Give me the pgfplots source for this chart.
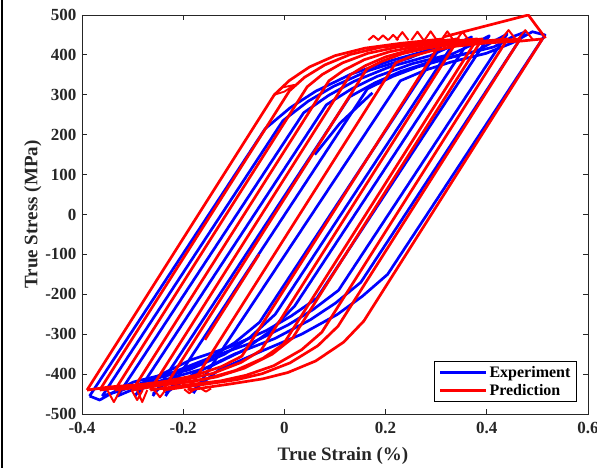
\documentclass[border=0pt]{standalone}
\usepackage{pgfplots}
\pgfplotsset{compat=1.18}
\usepackage{fontspec}
\setmainfont{Liberation Serif}
\definecolor{axgray}{RGB}{38,38,38}
\definecolor{pblue}{RGB}{0,0,255}
\definecolor{pred}{RGB}{255,0,0}
\begin{document}
\begin{tikzpicture}
\useasboundingbox (-82pt,-54pt) rectangle (515pt,414pt);
\draw[black, line width=2.5pt] (-80pt,-54pt) -- (-80pt,414pt);
\begin{axis}[
  scale only axis, width=506pt, height=399pt,
  xmin=-0.4, xmax=0.6, ymin=-500, ymax=500,
  xtick={-0.4,-0.2,0,0.2,0.4,0.6},
  ytick={-500,-400,-300,-200,-100,0,100,200,300,400,500},
  tick align=inside, major tick length=5pt,
  axis line style={axgray, line width=0.8pt},
  every tick/.style={axgray, line width=0.8pt},
  /pgf/number format/assume math mode=true,
  ticklabel style={font=\bfseries\fontsize{17}{17}\selectfont, text=axgray},
  xticklabel style={yshift=-5pt},
  yticklabel style={xshift=-2pt},
  xlabel={True Strain (\%)}, ylabel={True Stress (MPa)},
  label style={font=\bfseries\fontsize{19}{20}\selectfont, text=axgray},
  xlabel style={yshift=-6pt, xshift=8pt},
  ylabel style={yshift=-3pt},
  legend style={at={(rel axis cs:0.978,0.03)}, anchor=south east, draw=black, line width=0.9pt,
     font=\bfseries\fontsize{16}{17}\selectfont, inner xsep=4pt, inner ysep=3pt, row sep=1pt},
  legend cell align=left,
  legend image code/.code={\draw[#1, line width=3pt] (0pt,0pt) -- (46pt,0pt);},
  unbounded coords=jump,
  every axis plot/.append style={line width=2.7pt, line join=round},
]
% ---------------- Experiment (blue) ----------------
\addplot[pblue] coordinates {
(-0.385,-455) (-0.038,215) (0.012,268) (0.062,309) (0.132,352) (0.212,386) (0.280,410) (0.315,432)
(-0.049,-270) (-0.099,-322) (-0.149,-360) (-0.219,-395) (-0.299,-420) (-0.340,-447) (-0.365,-465) (-0.385,-455)};
\addplot[pblue, forget plot] coordinates {
(-0.36,-455) (-0.003,235) (0.047,284) (0.097,321) (0.167,361) (0.247,392) (0.300,420) (0.34,440)
(-0.018,-250) (-0.068,-308) (-0.118,-350) (-0.188,-389) (-0.268,-416) (-0.320,-440) (-0.36,-455)};
\addplot[pblue, forget plot] coordinates {
(-0.33,-455) (0.038,255) (0.088,299) (0.138,334) (0.208,370) (0.288,398) (0.335,425) (0.37,445)
(0.02,-230) (-0.03,-294) (-0.08,-340) (-0.15,-383) (-0.23,-412) (-0.28,-428) (-0.33,-455)};
\addplot[pblue, forget plot] coordinates {
(-0.295,-455) (0.083,275) (0.133,315) (0.183,346) (0.253,378) (0.333,403) (0.375,428) (0.405,448)
(0.064,-210) (0.014,-254) (-0.036,-291) (-0.106,-331) (-0.186,-365) (-0.250,-405) (-0.295,-452)};
\addplot[pblue, forget plot] coordinates {
(-0.26,-455) (0.129,295) (0.179,330) (0.229,358) (0.299,387) (0.379,409) (0.415,435) (0.44,452)
(0.107,-190) (0.057,-238) (0.007,-277) (-0.063,-321) (-0.143,-357) (-0.215,-400) (-0.26,-450)};
\addplot[pblue, forget plot] coordinates {
(-0.235,-455) (0.164,315) (0.214,346) (0.264,370) (0.334,395) (0.414,420) (0.450,445) (0.475,457)
(0.151,-170) (0.101,-222) (0.051,-264) (-0.019,-311) (-0.099,-350) (-0.180,-400) (-0.235,-448)};
\addplot[pblue, forget plot] coordinates {
(-0.18,-448) (0.229,335) (0.279,362) (0.329,382) (0.399,404) (0.450,430) (0.490,458) (0.515,450)
(0.204,-150) (0.154,-205) (0.104,-251) (0.034,-300) (-0.046,-343) (-0.130,-390) (-0.18,-440)};
\addplot[pblue, forget plot] coordinates {
(0.06,150) (0.11,229) (0.174,305)};
% ---------------- Prediction (red) ----------------
\addplot[pred] coordinates {
(-0.39,-440) (-0.02,300) (0.01,336) (0.05,370) (0.10,398) (0.16,417) (0.23,429) (0.314,440)
(-0.084,-355) (-0.124,-381) (-0.179,-404) (-0.234,-418) (-0.284,-426) (-0.344,-432) (-0.39,-440)};
\addplot[pred, forget plot] coordinates {
(-0.365,-440) (0.01,310) (0.04,344) (0.08,375) (0.13,401) (0.19,419) (0.26,429) (0.344,440)
(-0.046,-340) (-0.086,-371) (-0.141,-398) (-0.196,-414) (-0.246,-424) (-0.306,-431) (-0.365,-440)};
\addplot[pred, forget plot] coordinates {
(-0.335,-440) (0.045,320) (0.075,351) (0.115,380) (0.165,404) (0.225,420) (0.295,430) (0.381,440)
(-0.002,-325) (-0.042,-360) (-0.097,-391) (-0.152,-411) (-0.202,-421) (-0.262,-429) (-0.335,-440)};
\addplot[pred, forget plot] coordinates {
(-0.30,-440) (0.088,335) (0.118,362) (0.158,388) (0.208,408) (0.268,423) (0.338,431) (0.391,440)
(0.016,-310) (-0.024,-350) (-0.079,-385) (-0.134,-407) (-0.184,-419) (-0.244,-428) (-0.30,-440)};
\addplot[pred, forget plot] coordinates {
(-0.265,-440) (0.13,350) (0.16,373) (0.20,395) (0.25,413) (0.31,425) (0.38,433) (0.441,440)
(0.074,-295) (0.034,-339) (-0.021,-379) (-0.076,-403) (-0.126,-417) (-0.186,-426) (-0.265,-440)};
\addplot[pred, forget plot] coordinates {
(-0.24,-440) (0.163,365) (0.193,384) (0.233,403) (0.283,417) (0.343,428) (0.413,434) (0.466,440)
(0.106,-280) (0.066,-329) (0.011,-372) (-0.044,-399) (-0.094,-414) (-0.154,-425) (-0.24,-440)};
\addplot[pred, forget plot] coordinates {
(-0.19,-440) (0.22,380) (0.25,396) (0.29,410) (0.34,422) (0.40,430) (0.47,435) (0.51,440)
(0.157,-267) (0.117,-320) (0.062,-367) (0.007,-396) (-0.043,-412) (-0.103,-424) (-0.19,-440)};
% spurious spike, knee artefact and start segment
\addplot[pred, forget plot] coordinates {
(0.314,445) (0.482,500) (0.516,442)};
\addplot[pred, forget plot, line width=1.8pt] coordinates {
(-0.02,300) (-0.005,318) (0.02,325) (0.0,308) (-0.02,300)};
\addplot[pred, forget plot] coordinates {
(-0.157,-314) (-0.05,-100)};
% saw-tooth oscillations on the plateaus
\addplot[pred, forget plot, line width=2pt] coordinates {
(0.166,437) (0.176,448) (0.186,437) (nan,nan)
(0.185,437) (0.195,449) (0.205,437) (nan,nan)
(0.205,437) (0.215,450) (0.225,437) (nan,nan)
(0.221,437) (0.233,457) (0.245,437) (nan,nan)
(0.251,437) (0.263,458) (0.275,437) (nan,nan)
(0.277,437) (0.289,459) (0.301,437) (nan,nan)
(0.310,437) (0.322,459) (0.334,437) (nan,nan)
(0.340,437) (0.352,458) (0.364,437) (nan,nan)
(0.428,438) (0.443,462) (0.458,438) (nan,nan)
(0.461,438) (0.476,462) (0.491,438) (nan,nan)
(-0.350,-440) (-0.337,-470) (-0.324,-440) (nan,nan)
(-0.302,-440) (-0.291,-465) (-0.280,-440) (nan,nan)
(-0.291,-440) (-0.281,-470) (-0.271,-440) (nan,nan)
(-0.257,-440) (-0.246,-458) (-0.235,-440) (nan,nan)
(-0.198,-438) (-0.188,-448) (-0.178,-438) (nan,nan)
(-0.165,-436) (-0.155,-444) (-0.145,-436)};
\legend{Experiment, Prediction}
\end{axis}
\end{tikzpicture}
\end{document}
